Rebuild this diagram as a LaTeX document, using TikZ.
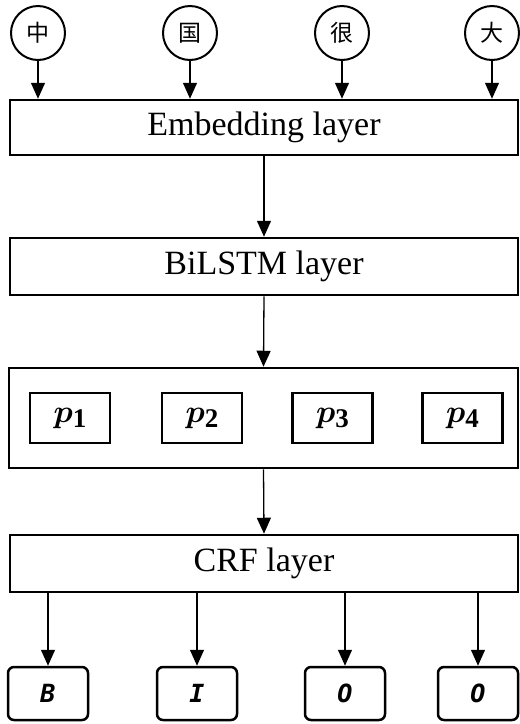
\RequirePackage{fix-cm}
\documentclass[tikz,border=0pt]{standalone}
\usepackage{amsmath,amssymb,bm}
\usepackage{fontspec}
\setmainfont{Liberation Serif}
\setmonofont{DejaVu Sans Mono}
\newfontfamily\cjk{Noto Sans CJK SC}
\newcommand{\pidx}[1]{$\bm{p}$\raisebox{-5pt}{\fontsize{27}{27}\selectfont\bfseries #1}}
\usetikzlibrary{arrows.meta,positioning,fit,calc}

\begin{document}
\begin{tikzpicture}[x=1pt, y=-1pt,
    charnode/.style={draw, circle, line width=2pt, minimum size=54pt, inner sep=0pt,
      font=\cjk\fontsize{23}{26}\selectfont},
    layerbox/.style={draw, line width=2.5pt, minimum width=508pt, inner sep=0pt,
      font=\fontsize{34}{40}\selectfont},
    pbox/.style={draw, line width=2.5pt, minimum width=80pt, minimum height=50pt,
      inner sep=0pt, font=\fontsize{32}{36}\selectfont},
    tagbox/.style={draw, rounded corners=6pt, line width=2.5pt, minimum width=80pt,
      minimum height=53pt, inner sep=0pt, font=\ttfamily\bfseries\itshape\fontsize{25}{28}\selectfont},
    flow/.style={-{Triangle[width=14pt, length=16pt]}, line width=1.3pt}]
    \useasboundingbox (0,0) rectangle (520,724);
    % input characters
    \node[charnode] (c1) at (38,33) {中};
    \node[charnode] (c2) at (190,33) {国};
    \node[charnode] (c3) at (342,33) {很};
    \node[charnode] (c4) at (492,33) {大};
    % layers
    \node[layerbox, minimum height=55pt] (emb) at (264,127.5) {Embedding layer};
    \node[layerbox, minimum height=57pt] (bil) at (264,266.5) {BiLSTM layer};
    \node[layerbox, minimum width=509pt, minimum height=100pt] (proj) at (263.5,418) {};
    \node[pbox] (p1) at (70,418) {\pidx{1}};
    \node[pbox] (p2) at (202,418) {\pidx{2}};
    \node[pbox] (p3) at (332.5,418) {\pidx{3}};
    \node[pbox] (p4) at (462.5,418) {\pidx{4}};
    \node[layerbox, minimum height=57pt] (crf) at (264,563.5) {CRF layer};
    % output tags
    \node[tagbox] (t1) at (48,693.5) {B};
    \node[tagbox] (t2) at (197,693.5) {I};
    \node[tagbox] (t3) at (345,693.5) {O};
    \node[tagbox] (t4) at (478,693.5) {O};
    % connectors
    \foreach \i in {1,...,4}
      \draw[flow] (c\i.south) -- (c\i.south |- emb.north);
    \draw[flow] (emb.south) -- (bil.north);
    \draw[flow] (bil.south) -- (proj.north);
    \draw[flow] (proj.south) -- (crf.north);
    \foreach \i in {1,...,4}
      \draw[flow] (t\i.north |- crf.south) -- (t\i.north);
\end{tikzpicture}
\end{document}
